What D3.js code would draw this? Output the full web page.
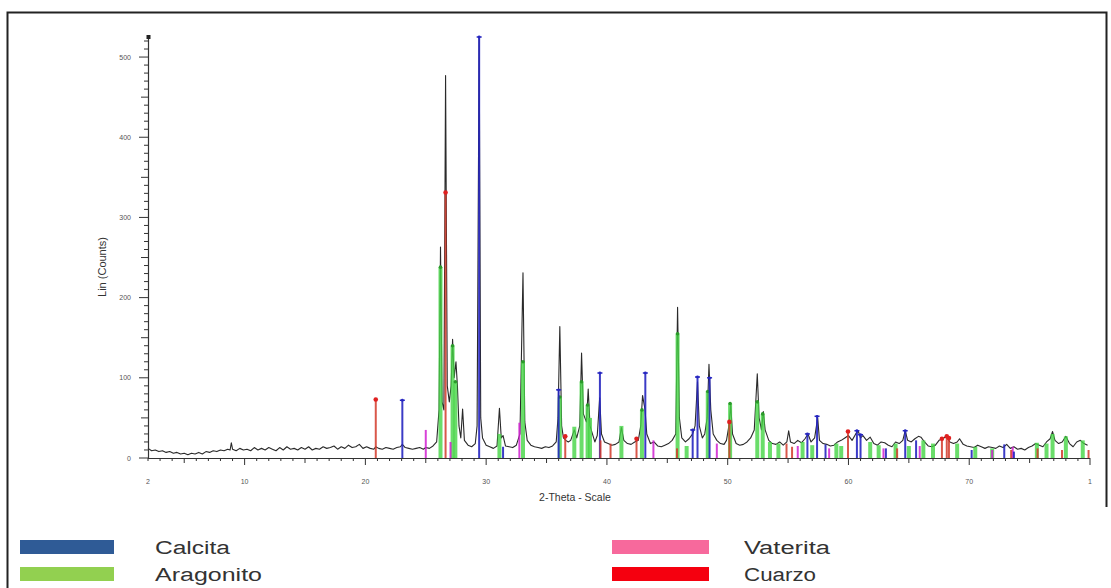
<!DOCTYPE html>
<html>
<head>
<meta charset="utf-8">
<script src="https://cdn.jsdelivr.net/npm/d3@7"></script>
<style>
  html, body { margin: 0; padding: 0; background: #fff; }
  svg { display: block; }
</style>
</head>
<body>
<script>
// ---------------- DATA ----------------
const profileTheta = [2.0,2.3,2.6,2.9,3.2,3.5,3.8,4.1,4.4,4.7,5.0,5.3,5.6,5.9,6.2,6.5,6.8,7.1,7.4,7.7,8.0,8.3,8.6,8.8,8.9,9.0,9.3,9.6,9.9,10.2,10.5,10.8,11.1,11.4,11.7,12.0,12.3,12.6,12.9,13.2,13.5,13.8,14.1,14.4,14.7,15.0,15.3,15.6,15.9,16.2,16.5,16.8,17.1,17.4,17.7,18.0,18.3,18.6,18.9,19.2,19.5,19.8,20.1,20.4,20.7,20.86,21.1,21.4,21.7,22.0,22.3,22.6,22.9,23.06,23.3,23.6,23.9,24.2,24.5,24.8,25.0,25.3,25.6,25.9,26.1,26.22,26.35,26.5,26.64,26.78,26.95,27.1,27.22,27.35,27.5,27.62,27.75,27.9,28.05,28.2,28.5,28.8,29.1,29.25,29.42,29.55,29.7,30.0,30.3,30.6,30.9,31.1,31.25,31.4,31.6,31.9,32.2,32.5,32.8,33.05,33.2,33.4,33.7,34.0,34.3,34.6,34.9,35.2,35.5,35.8,35.95,36.1,36.25,36.4,36.6,36.8,37.0,37.3,37.5,37.75,37.9,38.05,38.3,38.45,38.6,38.8,39.0,39.2,39.4,39.55,39.8,40.1,40.4,40.7,41.0,41.2,41.4,41.7,42.0,42.3,42.6,42.8,42.95,43.15,43.3,43.6,43.9,44.2,44.5,44.8,45.1,45.4,45.7,45.85,46.0,46.2,46.5,46.8,47.1,47.3,47.5,47.65,47.9,48.1,48.3,48.45,48.6,48.8,49.1,49.4,49.7,49.9,50.1,50.25,50.4,50.7,51.0,51.3,51.6,51.9,52.2,52.45,52.6,52.8,52.95,53.1,53.4,53.7,54.0,54.3,54.6,54.9,55.05,55.2,55.5,55.8,56.1,56.4,56.65,56.9,57.2,57.45,57.6,57.9,58.2,58.5,58.8,59.1,59.4,59.7,60.0,60.3,60.6,60.8,61.0,61.2,61.5,61.8,62.1,62.4,62.7,63.0,63.3,63.6,63.9,64.2,64.5,64.7,64.9,65.2,65.5,65.8,66.0,66.3,66.6,66.9,67.2,67.5,67.8,68.1,68.4,68.7,69.0,69.2,69.5,69.8,70.1,70.4,70.7,71.0,71.3,71.6,71.9,72.2,72.5,72.8,73.1,73.4,73.7,74.0,74.3,74.6,74.9,75.2,75.5,75.8,76.1,76.4,76.7,76.9,77.1,77.4,77.7,78.0,78.3,78.6,78.9,79.2,79.5,79.8];
const profileCounts = [12,9,10,8,9,7,8,6,7,5,6,4,6,5,7,5,8,7,9,8,10,9,11,10,19,11,9,12,10,11,9,13,10,12,10,13,11,9,13,10,14,11,12,10,13,11,14,10,12,11,14,12,13,15,11,14,12,16,13,14,17,12,14,12,11,14,12,11,13,12,11,13,14,17,13,12,11,12,13,11,13,12,15,20,60,263,70,60,477,90,70,90,148,100,120,90,40,25,61,22,16,14,18,40,525,50,25,16,14,12,15,62,25,28,15,14,13,16,30,231,45,22,16,14,13,12,14,13,15,20,50,164,40,25,22,20,22,35,25,40,131,55,45,86,40,30,20,28,75,30,20,18,16,17,20,38,22,18,17,20,22,40,78,61,30,18,20,15,14,16,18,22,30,188,50,25,20,24,30,40,95,40,25,30,50,117,60,30,22,18,17,22,40,66,30,18,16,17,20,25,35,105,50,35,58,35,22,18,17,20,16,20,34,20,18,22,19,24,30,20,25,50,22,18,17,15,16,20,22,25,28,22,30,34,25,28,22,26,18,16,20,19,16,14,20,18,22,34,22,20,24,27,26,20,15,14,16,22,24,27,20,18,20,24,17,15,14,13,16,14,12,14,13,12,15,13,17,12,14,11,12,10,13,15,18,16,14,20,24,33,22,18,20,27,18,14,20,22,18,16];

const calcitaPos = [23.06,29.42,31.4,36.0,39.42,43.18,47.1,47.5,48.5,56.6,57.4,58.1,60.7,61.0,63.1,64.7,65.6,70.2,72.9,73.7];
const calcitaInt = [72,525,14,85,106,106,35,101,100,30,52,17,34,29,12,34,22,10,17,8];

const aragonitoPos = [26.22,27.22,27.45,31.1,33.05,36.1,37.3,37.9,38.4,38.6,41.2,42.9,45.85,46.6,48.35,50.2,52.45,52.9,53.5,54.2,56.2,57.0,59.0,59.4,61.8,62.5,63.9,65.0,66.2,67.0,69.0,70.5,71.9,75.6,76.4,76.9,78.0,79.4];
const aragonitoInt = [238,140,95,30,120,76,39,95,66,50,40,60,155,15,83,68,70,55,20,18,20,16,18,15,20,16,18,15,22,18,18,14,12,19,18,30,27,22];

const vateritaPos = [25.0,27.05,32.75,43.85,49.1,55.8,58.4,62.9,65.9,71.9,73.6];
const vateritaInt = [35,20,44,22,18,15,12,12,15,10,14];

const cuarzoPos = [20.86,26.64,36.55,39.47,40.3,42.45,45.8,50.14,54.87,55.33,59.96,64.03,67.74,68.14,68.32,73.47,75.66,77.68,79.88];
const cuarzoInt = [73,331,27,22,18,24,12,45,18,14,33,12,24,27,25,10,12,10,10];

const xTickValues = [2,10,20,30,40,50,60,70,80];
const xTickLabels = ["2","10","20","30","40","50","60","70","1"];
const yTickValues = [0,100,200,300,400,500];

const legendNames = ["Calcita","Aragonito","Vaterita","Cuarzo"];
const legendColors = ["#2f5b96","#92d050","#f7699c","#f5000f"];

// ---------------- DRAW ----------------
const W = 1111, H = 588;
const svg = d3.select("body").append("svg").attr("width", W).attr("height", H);

// frame
svg.append("path").attr("d", `M7.5,${H} V12.5 H1106.5 V507`)
  .attr("fill","none").attr("stroke","#222").attr("stroke-width",2);

const x = d3.scaleLinear().domain([2,80]).range([148,1090]);
const y = d3.scaleLinear().domain([0,525]).range([458,37]);

// profile line
const profile = profileTheta.map((t,i)=>[t, profileCounts[i]]);
svg.append("path").datum(profile)
  .attr("fill","none").attr("stroke","#2a2a2a").attr("stroke-width",1.1)
  .attr("stroke-linejoin","round")
  .attr("d", d3.line().x(d=>x(d[0])).y(d=>y(d[1])));

// sticks
function sticks(pos, ints, color, width, opacity) {
  const g = svg.append("g");
  g.selectAll("line").data(pos.map((p,i)=>[p,ints[i]])).join("line")
    .attr("x1",d=>x(d[0])).attr("x2",d=>x(d[0]))
    .attr("y1",y(0)).attr("y2",d=>y(d[1]))
    .attr("stroke",color).attr("stroke-width",width).attr("stroke-opacity",opacity);
  return g;
}
const gA = sticks(aragonitoPos, aragonitoInt, "#45d445", 4, 0.8);
gA.selectAll("circle").data(aragonitoPos.map((p,i)=>[p,aragonitoInt[i]]).filter(d=>d[1]>50)).join("circle")
  .attr("cx",d=>x(d[0])).attr("cy",d=>y(d[1])).attr("r",1.8).attr("fill","#2a9a2a");

const gV = sticks(vateritaPos, vateritaInt, "#d020d0", 2, 0.85);

const gC = sticks(calcitaPos, calcitaInt, "#2626c0", 2, 0.9);
gC.selectAll("path.cap").data(calcitaPos.map((p,i)=>[p,calcitaInt[i]]).filter(d=>d[1]>25)).join("path")
  .attr("class","cap")
  .attr("d",d=>`M${x(d[0])-2.5},${y(d[1])} H${x(d[0])+2.5}`)
  .attr("stroke","#2626c0").attr("stroke-width",1.5);
gC.selectAll("circle").data(calcitaPos.map((p,i)=>[p,calcitaInt[i]]).filter(d=>d[1]>25)).join("circle")
  .attr("cx",d=>x(d[0])).attr("cy",d=>y(d[1])).attr("r",1.4).attr("fill","#2626c0");

const gQ = sticks(cuarzoPos, cuarzoInt, "#d23a2a", 2, 0.85);
gQ.selectAll("circle").data(cuarzoPos.map((p,i)=>[p,cuarzoInt[i]]).filter(d=>d[1]>=24)).join("circle")
  .attr("cx",d=>x(d[0])).attr("cy",d=>y(d[1])).attr("r",2.3).attr("fill","#e02020");

// axes
const axisColor = "#333";
const gx = svg.append("g");
gx.append("line").attr("x1",x(2)).attr("x2",x(80)).attr("y1",y(0)+0.5).attr("y2",y(0)+0.5)
  .attr("stroke",axisColor).attr("stroke-width",1.2);
const xMinor = d3.range(2,81,1);
gx.selectAll("line.t").data(xMinor).join("line").attr("class","t")
  .attr("x1",d=>x(d)).attr("x2",d=>x(d))
  .attr("y1",y(0)).attr("y2",d=> d%10===0 ? y(0)+7 : (d%5===0 ? y(0)+5 : y(0)+3))
  .attr("stroke",axisColor).attr("stroke-width",1);
gx.selectAll("text").data(xTickValues).join("text")
  .attr("x",d=>x(d)).attr("y",484)
  .attr("text-anchor","middle").attr("font-family","Arial, Liberation Sans, sans-serif")
  .attr("font-size",7).attr("fill","#555")
  .text((d,i)=>xTickLabels[i]);

const gy = svg.append("g");
gy.append("line").attr("x1",x(2)+0.5).attr("x2",x(2)+0.5).attr("y1",y(0)).attr("y2",y(525))
  .attr("stroke",axisColor).attr("stroke-width",1.2);
gy.append("rect").attr("x",x(2)-1.5).attr("y",y(525)-2).attr("width",4).attr("height",4).attr("fill","#222");
const yMinor = d3.range(0,521,10);
gy.selectAll("line.t").data(yMinor).join("line").attr("class","t")
  .attr("y1",d=>y(d)).attr("y2",d=>y(d))
  .attr("x1",d=> d%100===0 ? x(2)-9 : (d%50===0 ? x(2)-7 : x(2)-4)).attr("x2",x(2)+1)
  .attr("stroke",axisColor).attr("stroke-width",1);
gy.selectAll("text").data(yTickValues).join("text")
  .attr("x",131).attr("y",d=>y(d)+2.5)
  .attr("text-anchor","end").attr("font-family","Arial, Liberation Sans, sans-serif")
  .attr("font-size",7).attr("fill","#555")
  .text(d=>d);

// axis titles
svg.append("text").attr("transform","translate(106,267) rotate(-90)")
  .attr("text-anchor","middle").attr("font-family","Arial, Liberation Sans, sans-serif")
  .attr("font-size",11).attr("fill","#333").text("Lin (Counts)");
svg.append("text").attr("x",575).attr("y",501)
  .attr("text-anchor","middle").attr("font-family","Arial, Liberation Sans, sans-serif")
  .attr("font-size",10.5).attr("fill","#333").text("2-Theta - Scale");

// legend
const legPos = [[20,540],[20,567],[612,540],[612,567]];
const legWidths = [75,107,86,72];
const leg = svg.append("g");
legendNames.forEach((n,i)=>{
  const [lx,ly] = legPos[i];
  leg.append("rect").attr("x",lx).attr("y",ly).attr("width",i<2?94:97).attr("height",14).attr("fill",legendColors[i]);
  leg.append("text").attr("x",lx+(i<2?135:132)).attr("y",ly+14)
    .attr("font-family","Arial, Liberation Sans, sans-serif")
    .attr("font-size",18).attr("fill","#333")
    .attr("textLength",legWidths[i]).attr("lengthAdjust","spacingAndGlyphs")
    .text(n);
});
</script>
</body>
</html>
